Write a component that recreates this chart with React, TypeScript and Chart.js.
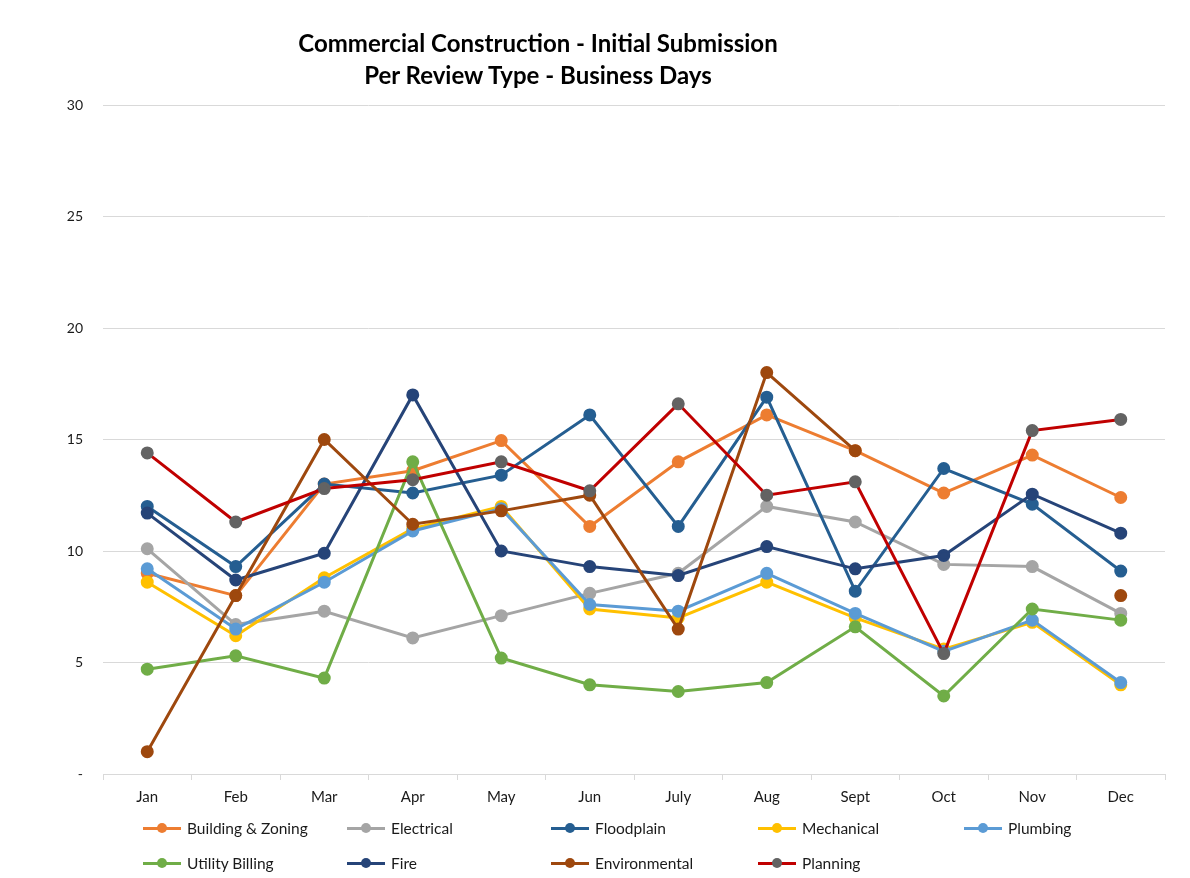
import React, { useEffect, useRef } from "react";
import { Chart, registerables } from "chart.js";

Chart.register(...registerables);

const months = ["Jan", "Feb", "Mar", "Apr", "May", "Jun", "July", "Aug", "Sept", "Oct", "Nov", "Dec"];

const buildingZoning = [9.0, 8.0, 13.0, 13.6, 14.95, 11.1, 14.0, 16.1, 14.5, 12.6, 14.3, 12.4];
const electrical = [10.1, 6.7, 7.3, 6.1, 7.1, 8.1, 9.0, 12.0, 11.3, 9.4, 9.3, 7.2];
const floodplain = [12.0, 9.3, 13.0, 12.6, 13.4, 16.1, 11.1, 16.9, 8.2, 13.7, 12.1, 9.1];
const mechanical = [8.6, 6.2, 8.8, 11.0, 12.0, 7.4, 7.0, 8.6, 7.0, 5.6, 6.8, 4.0];
const plumbing = [9.2, 6.5, 8.6, 10.9, 11.9, 7.6, 7.3, 9.0, 7.2, 5.5, 6.9, 4.1];
const utilityBilling = [4.7, 5.3, 4.3, 14.0, 5.2, 4.0, 3.7, 4.1, 6.6, 3.5, 7.4, 6.9];
const fire = [11.7, 8.7, 9.9, 17.0, 10.0, 9.3, 8.9, 10.2, 9.2, 9.8, 12.55, 10.8];
const environmental = [1.0, 8.0, 15.0, 11.2, 11.8, 12.5, 6.5, 18.0, 14.5, null, null, 8.0];
const planning = [14.4, 11.3, 12.8, 13.2, 14.0, 12.7, 16.6, 12.5, 13.1, 5.4, 15.4, 15.9];

const seriesNames = [
  "Building & Zoning",
  "Electrical",
  "Floodplain",
  "Mechanical",
  "Plumbing",
  "Utility Billing",
  "Fire",
  "Environmental",
  "Planning",
];
const seriesData = [buildingZoning, electrical, floodplain, mechanical, plumbing, utilityBilling, fire, environmental, planning];
const lineColors = ["#ED7D31", "#A5A5A5", "#255E91", "#FFC000", "#5B9BD5", "#70AD47", "#264478", "#9E480E", "#C00000"];
const markerColors = ["#ED7D31", "#A5A5A5", "#255E91", "#FFC000", "#5B9BD5", "#70AD47", "#264478", "#9E480E", "#636363"];

const yTicks = [0, 5, 10, 15, 20, 25, 30];

const FONT = "Lato, 'Open Sans', sans-serif";

export default function App() {
  const ref = useRef<HTMLCanvasElement | null>(null);

  useEffect(() => {
    if (!ref.current) return;
    const chart = new Chart(ref.current, {
      type: "line",
      data: {
        labels: months,
        datasets: seriesNames.map((name, i) => ({
          label: name,
          data: seriesData[i],
          borderColor: lineColors[i],
          backgroundColor: markerColors[i],
          pointBackgroundColor: markerColors[i],
          pointBorderColor: markerColors[i],
          borderWidth: 3,
          pointRadius: 5,
          pointHoverRadius: 5,
          tension: 0,
          spanGaps: false,
          order: seriesNames.length - i,
        })),
      },
      options: {
        animation: false,
        responsive: false,
        maintainAspectRatio: false,
        layout: { padding: { left: 0, right: 25, top: 105, bottom: 0 } },
        plugins: {
          legend: { display: false },
          title: { display: false },
          tooltip: { enabled: false },
        },
        scales: {
          x: {
            offset: true,
            grid: {
              offset: true,
              drawOnChartArea: false,
              drawTicks: true,
              tickLength: 6,
              color: "#D9D9D9",
            },
            border: { display: true, color: "#D9D9D9" },
            ticks: {
              color: "#1a1a1a",
              font: { family: FONT, size: 15 },
              padding: 8,
              maxRotation: 0,
              autoSkip: false,
            },
            afterFit: (s: any) => {
              s.height = 104;
            },
          },
          y: {
            min: 0,
            max: 30,
            afterBuildTicks: (s: any) => {
              s.ticks = yTicks.map((v) => ({ value: v }));
            },
            grid: { color: "#D9D9D9", drawTicks: false, lineWidth: 1 },
            border: { display: false },
            ticks: {
              color: "#1a1a1a",
              font: { family: FONT, size: 14 },
              padding: 20,
              callback: (v: any) => (Number(v) === 0 ? "-" : String(v)),
            },
            afterFit: (s: any) => {
              s.width = 103;
            },
          },
        },
      },
    });
    return () => chart.destroy();
  }, []);

  const colX = [143, 347, 551, 758, 964];
  const rowY = [828, 863];

  return (
    <div style={{ position: "absolute", left: 0, top: 0, width: 1190, height: 878, background: "#fff", fontFamily: FONT }}>
      <canvas ref={ref} width={1190} height={878} style={{ position: "absolute", left: 0, top: 0 }} />
      <div
        style={{
          position: "absolute",
          left: 188,
          width: 700,
          top: 27,
          textAlign: "center",
          fontWeight: 700,
          fontSize: 24,
          lineHeight: "32px",
          color: "#000",
        }}
      >
        <div>Commercial Construction - Initial Submission</div>
        <div>Per Review Type - Business Days</div>
      </div>
      {seriesNames.map((name, i) => {
        const col = i < 5 ? i : i - 5;
        const row = i < 5 ? 0 : 1;
        return (
          <div
            key={name}
            style={{
              position: "absolute",
              left: colX[col],
              top: rowY[row] - 10,
              height: 20,
              display: "flex",
              alignItems: "center",
              fontSize: 15.5,
              color: "#1a1a1a",
              whiteSpace: "nowrap",
            }}
          >
            <span style={{ position: "relative", width: 38, height: 20, display: "inline-block", marginRight: 6 }}>
              <span
                style={{
                  position: "absolute",
                  left: 0,
                  top: 8.5,
                  width: 38,
                  height: 3,
                  background: lineColors[i],
                }}
              />
              <span
                style={{
                  position: "absolute",
                  left: 14,
                  top: 5,
                  width: 10,
                  height: 10,
                  borderRadius: "50%",
                  background: markerColors[i],
                }}
              />
            </span>
            <span>{name}</span>
          </div>
        );
      })}
    </div>
  );
}
